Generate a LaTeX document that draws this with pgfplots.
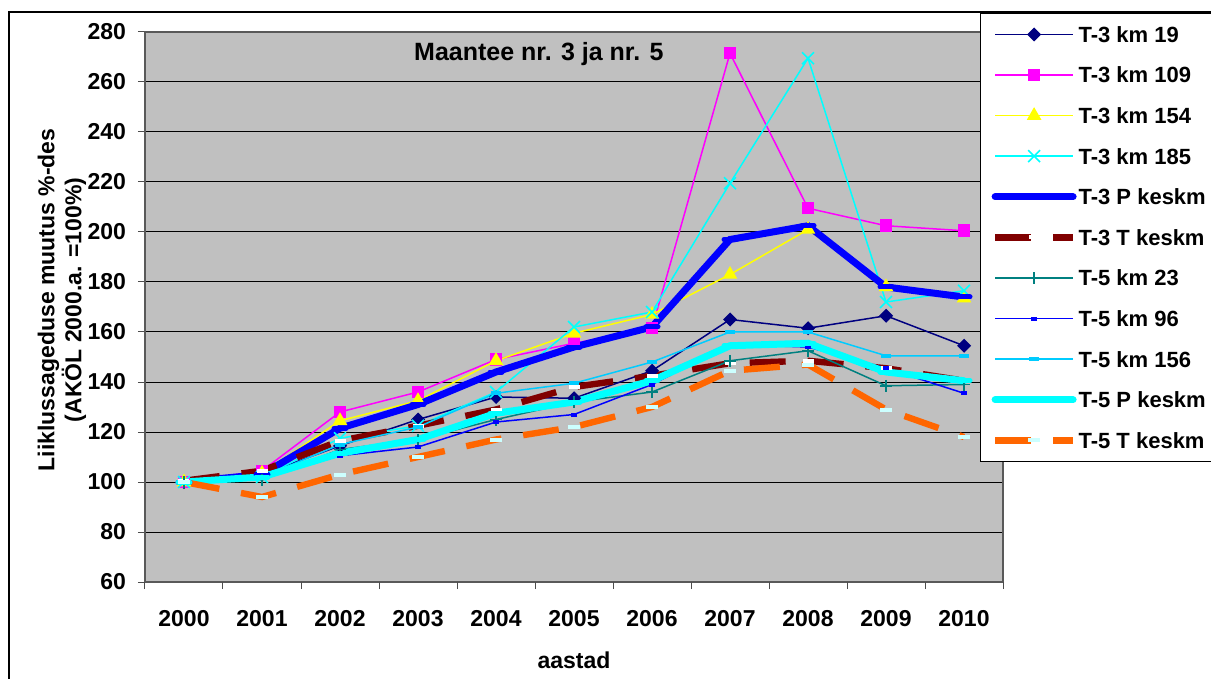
\documentclass[border=0pt]{standalone}
\usepackage{fontspec}
\setmainfont{Liberation Sans}
\usepackage{pgfplots}
\pgfplotsset{compat=1.18}
\usepackage{pgfplotstable}

\definecolor{navyc}{HTML}{000080}
\definecolor{magc}{HTML}{FF00FF}
\definecolor{yelc}{HTML}{FFFF00}
\definecolor{cyac}{HTML}{00FFFF}
\definecolor{bluc}{HTML}{0000FF}
\definecolor{maroonc}{HTML}{800000}
\definecolor{tealc}{HTML}{008080}
\definecolor{skyc}{HTML}{00CCFF}
\definecolor{orangec}{HTML}{FF6600}
\definecolor{palecyan}{HTML}{CCFFFF}
\definecolor{plotgray}{HTML}{C0C0C0}

% x: 0 = 2000 ... 10 = 2010
\pgfplotstableread{
x km19 km109 km154 km185 Pthree Tthree kmA kmB kmC Pfive Tfive
0 100   100   100   100   100   100.5 100   100   100   100   100
1 103   104.5 103.5 102   103   104.5 101   102   102   102   94
2 114.5 128   124.5 117.5 121.5 116.5 113   110.5 115   111.5 103
3 125   136   132.5 122.5 131   122.5 117   114   122   117   110
4 134   149   148.5 136   144   129   125   124   135.5 127.5 117
5 133.5 155.5 159.5 162   154   138   132   127   139.5 132   122
6 144.5 161.5 167   168   162   142.5 136   139   148   140.5 130
7 165   271.5 183   219.5 197   147.5 148.5 155   160   154.5 144.5
8 161.5 209.5 201   269.5 202.5 148.5 152.5 154   160   155.5 147
9 166.5 202.5 178   172   178   145.5 138.5 145.5 150.5 144   129
10 154.5 200.5 173.5 176.5 174  140.5 139   135.5 150.5 140.5 118
}\data

\begin{document}
\begin{tikzpicture}
\useasboundingbox (0,0) rectangle (605.5pt,-339.5pt);
\draw[line width=0.8pt] (4.5pt,-6pt) rectangle (640pt,-360pt);
\begin{axis}[
  at={(72.5pt,-291pt)}, anchor=south west,
  scale only axis, width=429pt, height=275pt,
  xmin=-0.5, xmax=10.5, ymin=60, ymax=280,
  ytick={60,80,...,280},
  xtick={0,...,10},
  xticklabels={2000,2001,2002,2003,2004,2005,2006,2007,2008,2009,2010},
  x tick style={draw=none},
  extra x ticks={-0.5,0.5,...,10.5},
  extra x tick labels={},
  extra x tick style={x tick style={draw=gray!60!black, line width=0.5pt}, major tick length=3.5pt, tick align=outside, xmajorgrids=false},
  y tick style={draw=gray!60!black, line width=0.5pt},
  major tick length=3.5pt, tick align=outside,
  xtick pos=bottom, ytick pos=left,
  ymajorgrids, grid style={black, line width=0.5pt},
  axis line style={draw=gray!70!black, line width=0.7pt},
  axis background/.style={fill=plotgray},
  /pgf/number format/assume math mode=true,
  tick label style={font=\fontsize{11.5}{13}\selectfont\bfseries},
  yticklabel style={xshift=-2.5pt},
  xticklabel style={anchor=north, yshift=-7pt},
  xlabel={aastad},
  xlabel style={at={(axis description cs:0.5,0)}, anchor=center, yshift=-39pt, font=\fontsize{11.5}{13}\selectfont\bfseries},
  ylabel={Liiklussageduse muutus \%-des\\(AKÖL 2000.a. =100\%)},
  ylabel style={at={(axis description cs:-0.0967,0.513)}, anchor=center, align=center, font=\fontsize{11.5}{13.5}\selectfont\bfseries},
  legend style={at={(0.9732,1.0345)}, anchor=north west, draw=black, line width=0.6pt, fill=white,
    inner xsep=5.5pt, inner ysep=1pt, row sep=1.5pt, column sep=1pt,
    font=\fontsize{11}{13}\selectfont\bfseries,
    nodes={inner sep=0pt, text height=13.3pt, text depth=5.5pt}},
  legend cell align=left,
  legend image code/.code={\draw[mark repeat=2,mark phase=2,#1] plot coordinates {(0pt,0pt) (19.5pt,0pt) (39pt,0pt)};},
]
\addplot[navyc, line width=0.75pt, mark=square*, mark size=2.1pt, mark options={rotate=45, solid}] table[x=x, y=km19] {\data};
\addlegendentry{T-3 km 19}
\addplot[magc, line width=0.75pt, mark=square*, mark size=2.75pt, mark options={solid}] table[x=x, y=km109] {\data};
\addlegendentry{T-3 km 109}
\addplot[yelc, line width=0.75pt, mark=triangle*, mark size=3.5pt, mark options={solid}] table[x=x, y=km154] {\data};
\addlegendentry{T-3 km 154}
\addplot[cyac, line width=0.75pt, mark=x, mark size=4.2pt, mark options={solid, line width=0.8pt}] table[x=x, y=km185] {\data};
\addlegendentry{T-3 km 185}
\addplot[bluc, line width=3.5pt, line cap=round, mark=-, mark size=3pt, mark options={solid, line width=2.5pt}] table[x=x, y=Pthree] {\data};
\addlegendentry{T-3 P keskm}
\addplot[maroonc, line width=3.2pt, dash pattern=on 18pt off 11pt, mark=-, mark size=2.75pt, mark options={solid, draw=white, line width=2pt}] table[x=x, y=Tthree] {\data};
\addlegendentry{T-3 T keskm}
\addplot[tealc, line width=0.75pt, mark=+, mark size=3pt, mark options={solid, line width=0.8pt}] table[x=x, y=kmA] {\data};
\addlegendentry{T-5 km 23}
\addplot[bluc, line width=0.75pt, mark=-, mark size=1.5pt, mark options={solid, line width=2pt}] table[x=x, y=kmB] {\data};
\addlegendentry{T-5 km 96}
\addplot[skyc, line width=0.75pt, mark=-, mark size=2.5pt, mark options={solid, line width=2pt}] table[x=x, y=kmC] {\data};
\addlegendentry{T-5 km 156}
\addplot[cyac, line width=3.5pt, line cap=round, mark=-, mark size=3pt, mark options={solid, line width=2.5pt}] table[x=x, y=Pfive] {\data};
\addlegendentry{T-5 P keskm}
\addplot[orangec, line width=3.2pt, dash pattern=on 18pt off 11pt, mark=-, mark size=3pt, mark options={solid, draw=palecyan, line width=2pt}] table[x=x, y=Tfive] {\data};
\addlegendentry{T-5 T keskm}
\node[font=\fontsize{12.5}{14}\selectfont\bfseries] at (rel axis cs:0.459,0.96) {Maantee nr. 3 ja nr. 5};
\end{axis}
\end{tikzpicture}
\end{document}
